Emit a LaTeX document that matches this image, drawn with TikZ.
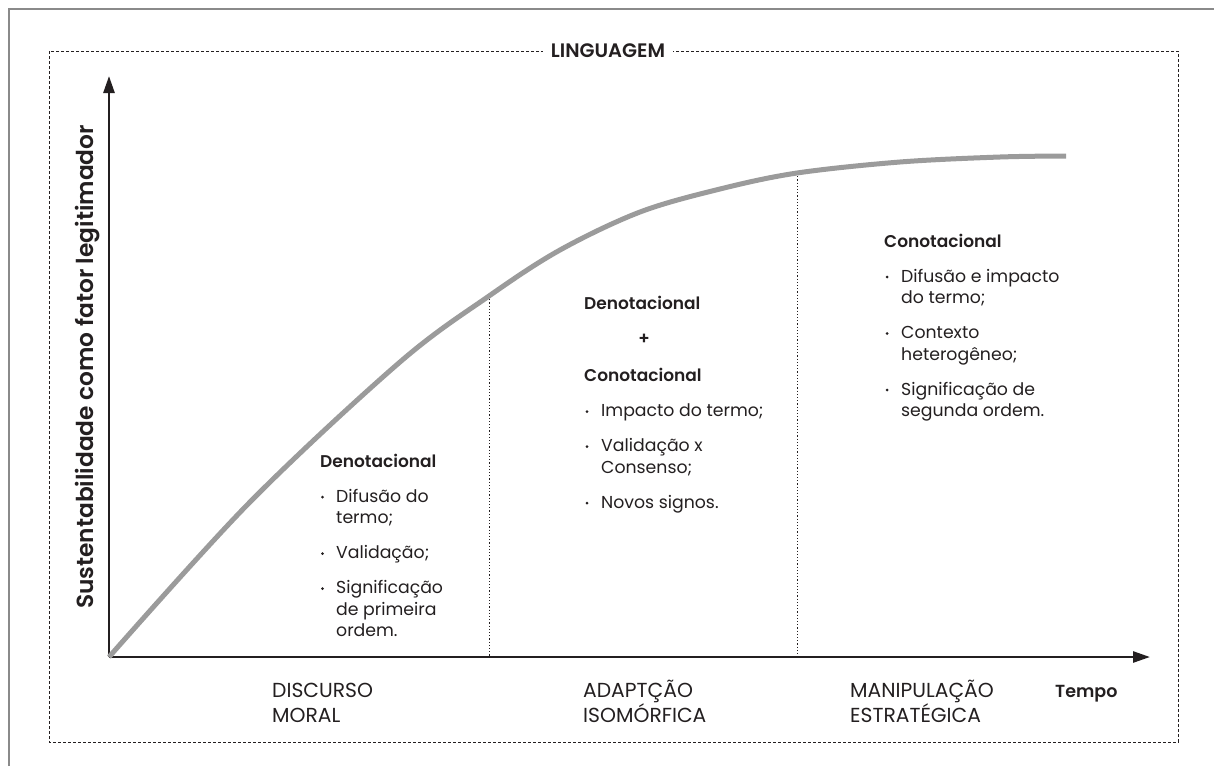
\documentclass[tikz,border=0pt]{standalone}
\usepackage{fontspec}
\setmainfont{Poppins}[BoldFont={Poppins SemiBold}]
\usetikzlibrary{arrows.meta}
\definecolor{ink}{HTML}{231F20}
\definecolor{curvegray}{HTML}{9B9B9B}
\definecolor{framegray}{HTML}{8A8A8A}
\begin{document}
\begin{tikzpicture}[x=1pt,y=-1pt,
  txt/.style={anchor=base west, inner sep=0pt, text=ink, font=\fontsize{17.3}{20}\selectfont},
  head/.style={anchor=base west, inner sep=0pt, text=ink, font=\fontsize{17}{20}\selectfont\bfseries},
  lab/.style={anchor=base west, inner sep=0pt, text=ink, font=\fontsize{20.3}{22}\selectfont},
  bul/.style={circle, fill=ink, inner sep=0pt, minimum size=3pt},
  axisline/.style={ink, line width=2.6pt, -{Triangle[length=17pt,width=11pt]}},
  divider/.style={ink, line width=0.9pt, dash pattern=on 1.2pt off 2pt},
  boxline/.style={ink, line width=0.9pt, dash pattern=on 3pt off 2pt},
]
\useasboundingbox (0,0) rectangle (1214,766);
% outer frame
\draw[framegray, line width=1.5pt] (9,766) -- (9,9) -- (1214,9);
% dashed language box
\draw[boxline] (49,51) rectangle (1178,742);
\node[fill=white, inner xsep=8pt, inner ysep=3pt, text=ink, font=\fontsize{19.5}{22}\selectfont\bfseries] (ling) at (608,51) {LINGUAGEM};

% axes
\coordinate (O) at (109,657);
\coordinate (xend) at (1150,657);
\coordinate (yend) at (109,76);
\draw[axisline] (O) -- (xend);
\draw[axisline] (O) -- (yend);

% dividers
\coordinate (c1) at (489,296);
\coordinate (a1) at (489,657);
\coordinate (c2) at (797,173);
\coordinate (a2) at (797,657);
\draw[divider] (c1) -- (a1);
\draw[divider] (c2) -- (a2);

% curve
\draw[curvegray, line width=5pt, line cap=butt] plot[smooth, tension=0.55] coordinates {
 (109,657) (250,502) (400,362) (489,296) (560,250) (640,212) (720,189) (797,173) (900,162) (1000,157) (1066,156)};

% y-axis label
\node[rotate=90, text=ink, inner sep=0pt, font=\fontsize{23.3}{26}\selectfont\bfseries] (ylab) at (88,367) {Sustentabilidade como fator legitimador};

% left block
\node[head] (h1) at (320,467) {Denotacional};
\node[bul] (b11) at (322.5,497) {};
\node[txt] (t11) at (336,502) {Difusão do};
\node[txt] (t12) at (336,523.5) {termo;};
\node[bul] (b12) at (322.5,553.5) {};
\node[txt] (t13) at (336,558.5) {Validação;};
\node[bul] (b13) at (322.5,588.5) {};
\node[txt] (t14) at (336,593.5) {Significação};
\node[txt] (t15) at (336,615) {de primeira};
\node[txt] (t16) at (336,636.5) {ordem.};

% middle block
\node[head] (h2) at (584,309) {Denotacional};
\node[text=ink, inner sep=0pt, font=\fontsize{17}{20}\selectfont\bfseries] (plus) at (644,339) {+};
\node[head] (h3) at (584,381.7) {Conotacional};
\node[bul] (b21) at (587,411.7) {};
\node[txt] (t21) at (601,416.7) {Impacto do termo;};
\node[bul] (b22) at (587,446.7) {};
\node[txt] (t22) at (601,451.7) {Validação x};
\node[txt] (t23) at (601,473.2) {Consenso;};
\node[bul] (b23) at (587,503.2) {};
\node[txt] (t24) at (601,508.2) {Novos signos.};

% right block
\node[head] (h4) at (884,247) {Conotacional};
\node[bul] (b31) at (887,277) {};
\node[txt] (t31) at (901,282) {Difusão e impacto};
\node[txt] (t32) at (901,303.5) {do termo;};
\node[bul] (b32) at (887,333.5) {};
\node[txt] (t33) at (901,338.5) {Contexto};
\node[txt] (t34) at (901,360) {heterogêneo;};
\node[bul] (b33) at (887,390) {};
\node[txt] (t35) at (901,395) {Significação de};
\node[txt] (t36) at (901,416.5) {segunda ordem.};

% bottom labels
\node[lab] (l1a) at (272,697) {DISCURSO};
\node[lab] (l1b) at (272,722) {MORAL};
\node[lab] (l2a) at (583,697) {ADAPTÇÃO};
\node[lab] (l2b) at (583,722) {ISOMÓRFICA};
\node[lab] (l3a) at (850,697) {MANIPULAÇÃO};
\node[lab] (l3b) at (850,722) {ESTRATÉGICA};
\node[lab, font=\fontsize{17.5}{20}\selectfont\bfseries] (tempo) at (1055,697) {Tempo};
\end{tikzpicture}
\end{document}
